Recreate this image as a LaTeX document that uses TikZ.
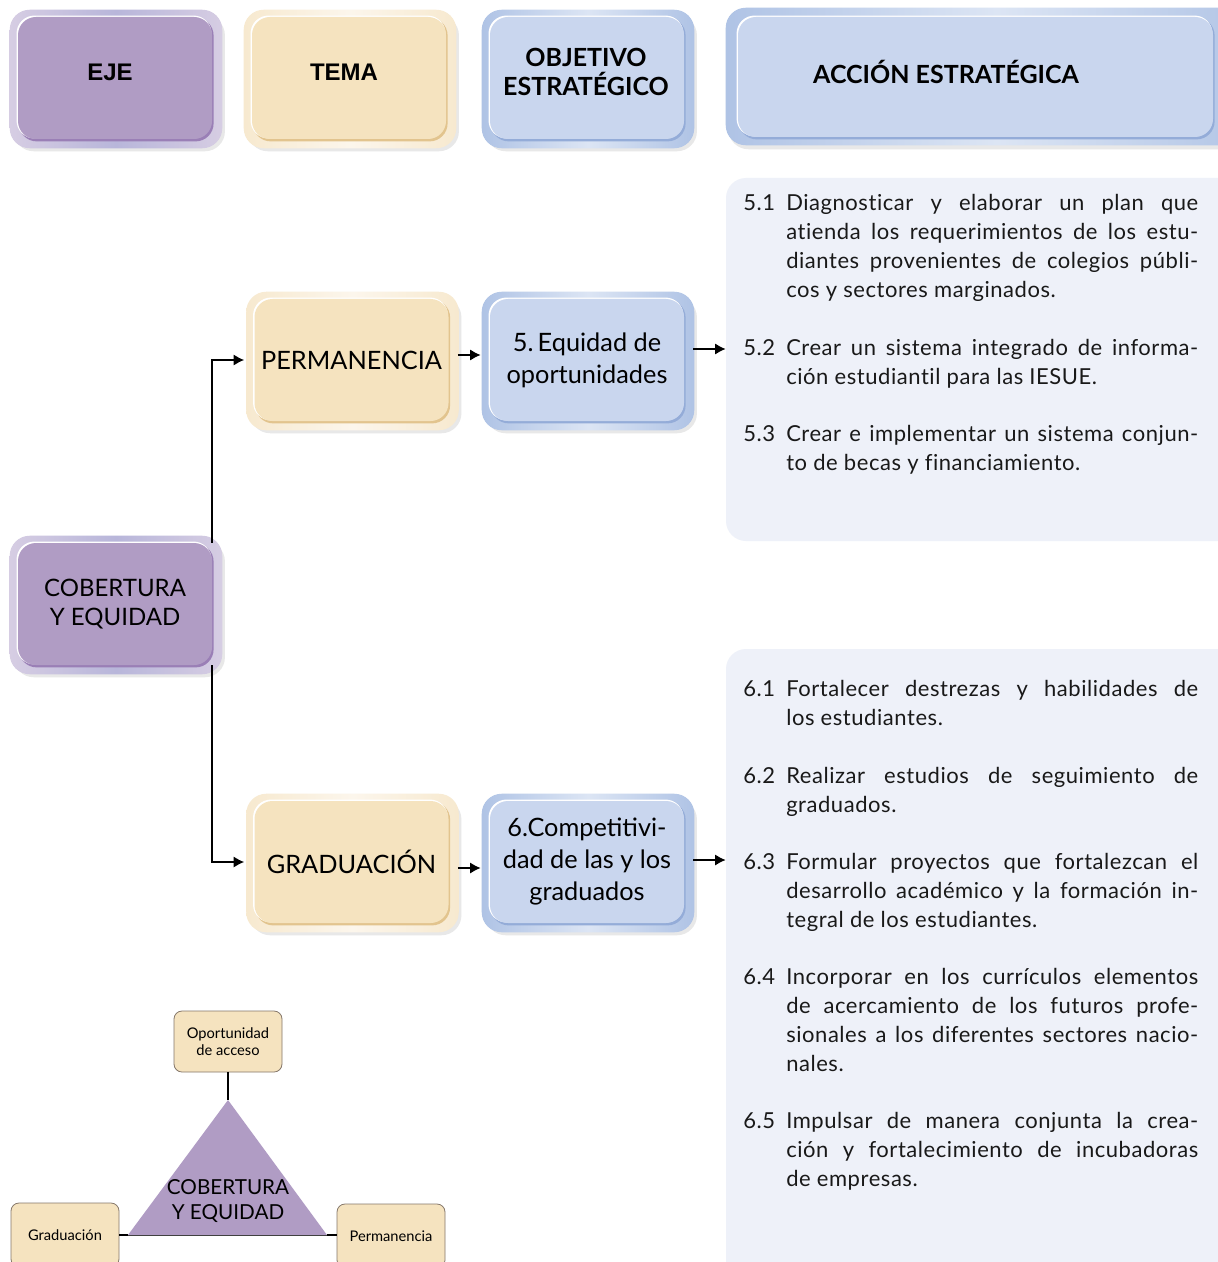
\documentclass[tikz,border=0pt]{standalone}
\usepackage{fontspec}
\setmainfont{Lato}
\newfontfamily\arialf{Liberation Sans}
\newfontfamily\bodyf{Lato}[LetterSpace=2.5,Ligatures=CommonOff]
\usetikzlibrary{arrows.meta,backgrounds}
\definecolor{purp}{HTML}{B09CC4}
\definecolor{purpdk}{HTML}{9A7FB6}
\definecolor{purpfa}{HTML}{D6CDE3}
\definecolor{purpfb}{HTML}{B8B6DA}
\definecolor{beige}{HTML}{F5E3BF}
\definecolor{beigedk}{HTML}{E2C48E}
\definecolor{beigefa}{HTML}{F7E9CF}
\definecolor{beigefb}{HTML}{FCF6EC}
\definecolor{bluef}{HTML}{C9D6EE}
\definecolor{bluedk}{HTML}{94ACD8}
\definecolor{bluefa}{HTML}{AFC3E5}
\definecolor{bluefb}{HTML}{DCE5F4}
\definecolor{panelc}{HTML}{EEF1F9}
\definecolor{smallbd}{HTML}{85776A}
\newlength\jw \setlength\jw{309pt}
\newcommand{\jline}[1]{\makebox[\jw][s]{#1}\\}
\newcommand{\lline}[1]{\makebox[\jw][l]{#1}}
\newcommand{\accit}[2]{\makebox[32.25pt][l]{#1}\parbox[t]{\jw}{#2}}
\newcommand{\deco}[5]{%
 \begin{scope}[on background layer]
  \fill[black!9, rounded corners=15pt] ([shift={(-3pt,1pt)}]#1.north west) rectangle ([shift={(9.5pt,-9pt)}]#1.south east);
  \shade[rounded corners=15pt, left color=#2, right color=#4, middle color=#3] ([shift={(-6pt,5.25pt)}]#1.north west) rectangle ([shift={(7.5pt,-6.75pt)}]#1.south east);
  \fill[#5, rounded corners=13.5pt] ([shift={(0.8pt,-0.6pt)}]#1.north west) rectangle ([shift={(1pt,-1.6pt)}]#1.south east);
  \fill[white, rounded corners=13.5pt] ([shift={(-0.9pt,0.9pt)}]#1.north west) rectangle ([shift={(-0.6pt,0.6pt)}]#1.south east);
 \end{scope}}
\begin{document}
\begin{tikzpicture}[x=0.75pt,y=-0.75pt,
  ibox/.style={rounded corners=13.5pt, minimum width=145.5pt, minimum height=91.5pt, inner sep=0pt, align=center},
  hdra/.style={font=\arialf\bfseries\fontsize{18}{21}\selectfont, align=center},
  hdrb/.style={font=\bfseries\fontsize{18.75}{22}\selectfont, align=center},
  midf/.style={font=\fontsize{19}{24}\selectfont},
  cobf/.style={font=\fontsize{18}{21.75}\selectfont},
  panel/.style={fill=panelc, rounded corners=15pt, minimum width=385.5pt, inner sep=0pt},
  accf/.style={font=\bodyf\fontsize{16.5}{21.75}\selectfont, inner sep=0pt, anchor=base west, text=black!90},
  sbox/.style={fill=beige, draw=smallbd, line width=0.6pt, rounded corners=6pt, minimum width=81pt, inner sep=0pt, align=center, font=\fontsize{11}{12.75}\selectfont},
  arr/.style={line width=1.3pt, -{Latex[length=8pt,width=8.5pt]}},
  lnk/.style={line width=1.5pt}]
\clip (0,0) rectangle (1217,1262);
\begin{scope}[on background layer]
\fill[white] (0,0) rectangle (1217,1262);
\end{scope}

% header boxes
\node[ibox, fill=purp] (eje) at (115,78) {};
\deco{eje}{purpfa}{purpfb}{purpfa}{purpdk}
\node[hdra] (ejet) at (110,72) {EJE};
\node[ibox, fill=beige] (tema) at (349,78) {};
\deco{tema}{beigefa}{beigefb}{beigefa}{beigedk}
\node[hdra] (temat) at (344,72) {TEMA};
\node[ibox, fill=bluef] (obj) at (587,78) {};
\deco{obj}{bluefa}{bluefb}{bluefa}{bluedk}
\node[hdrb] (objt) at (586,72) {OBJETIVO\\ESTRATÉGICO};
\node[ibox, fill=bluef, minimum width=356.25pt, minimum height=90pt] (acc) at (975.5,77) {};
\begin{scope}[on background layer]
  \fill[black!9, rounded corners=15pt] ([shift={(-7pt,2pt)}]acc.north west) rectangle ([shift={(40pt,-9pt)}]acc.south east);
  \shade[rounded corners=15pt, left color=bluefa, right color=bluefa, middle color=bluefb] ([shift={(-9pt,6.75pt)}]acc.north west) rectangle ([shift={(40pt,-6pt)}]acc.south east);
  \fill[bluedk, rounded corners=13.5pt] ([shift={(0.8pt,-0.6pt)}]acc.north west) rectangle ([shift={(1pt,-1.6pt)}]acc.south east);
  \fill[white, rounded corners=13.5pt] ([shift={(-0.9pt,0.9pt)}]acc.north west) rectangle ([shift={(-0.6pt,0.6pt)}]acc.south east);
\end{scope}
\node[hdrb] (acct) at (946,72) {ACCIÓN ESTRATÉGICA};

% middle boxes
\node[ibox, fill=beige, midf] (perm) at (351.5,360) {PERMANENCIA};
\deco{perm}{beigefa}{beigefb}{beigefa}{beigedk}
\node[ibox, fill=bluef, midf] (eq) at (587,360) {5.\,Equidad de\\oportunidades};
\deco{eq}{bluefa}{bluefb}{bluefa}{bluedk}
\node[ibox, fill=purp, cobf] (cob) at (115,604) {COBERTURA\\Y EQUIDAD};
\deco{cob}{purpfa}{purpfb}{purpfa}{purpdk}
\node[ibox, fill=beige, midf] (grad) at (351.5,862) {GRADUACIÓN};
\deco{grad}{beigefa}{beigefb}{beigefa}{beigedk}
\node[ibox, fill=bluef, midf] (comp) at (587,862) {6.Competitivi-\\dad de las y los\\graduados};
\deco{comp}{bluefa}{bluefb}{bluefa}{bluedk}

% panels
\begin{scope}[on background layer]
\node[panel, minimum height=272.25pt] (p1) at (983,359.5) {};
\node[panel, minimum height=481.5pt] (p2) at (983,970) {};
\end{scope}

% connectors
\draw[arr] (cob.north east) |- ([xshift=-7.5pt]perm.west);
\draw[arr] (cob.south east) |- ([xshift=-7.5pt]grad.west);
\draw[arr] ([shift={(6.75pt,3.75pt)}]perm.east) -- ([shift={(-6.75pt,3.75pt)}]eq.west);
\coordinate (a1) at ([shift={(6.75pt,8.25pt)}]eq.east);
\draw[arr] (a1) -- (a1 -| p1.west);
\draw[arr] ([shift={(6.75pt,-4.5pt)}]grad.east) -- ([shift={(-6.75pt,-4.5pt)}]comp.west);
\coordinate (a2) at ([shift={(6.75pt,1.5pt)}]comp.east);
\draw[arr] (a2) -- (a2 -| p2.west);

% action texts
\node[accf] (t51) at (743,211) {\accit{5.1}{\jline{Diagnosticar y elaborar un plan que}\jline{atienda los requerimientos de los estu-}\jline{diantes provenientes de colegios públi-}\lline{cos y sectores marginados.}}};
\node[accf] (t52) at (743,355) {\accit{5.2}{\jline{Crear un sistema integrado de informa-}\lline{ción estudiantil para las IESUE.}}};
\node[accf] (t53) at (743,441) {\accit{5.3}{\jline{Crear e implementar un sistema conjun-}\lline{to de becas y financiamiento.}}};
\node[accf] (t61) at (743,696) {\accit{6.1}{\jline{Fortalecer destrezas y habilidades de}\lline{los estudiantes.}}};
\node[accf] (t62) at (743,783) {\accit{6.2}{\jline{Realizar estudios de seguimiento de}\lline{graduados.}}};
\node[accf] (t63) at (743,869) {\accit{6.3}{\jline{Formular proyectos que fortalezcan el}\jline{desarrollo académico y la formación in-}\lline{tegral de los estudiantes.}}};
\node[accf] (t64) at (743,984) {\accit{6.4}{\jline{Incorporar en los currículos elementos}\jline{de acercamiento de los futuros profe-}\jline{sionales a los diferentes sectores nacio-}\lline{nales.}}};
\node[accf] (t65) at (743,1128) {\accit{6.5}{\jline{Impulsar de manera conjunta la crea-}\jline{ción y fortalecimiento de incubadoras}\lline{de empresas.}}};

% triangle diagram
\coordinate (ta) at (228,1100);
\coordinate (tl) at (128,1235);
\coordinate (tr) at (327,1235);
\fill[purp] (ta) -- (tr) -- (tl) -- cycle;
\draw[black!75, line width=0.6pt] (tl) -- (tr);
\node[font=\fontsize{15.5}{18.75}\selectfont, align=center, inner sep=0pt] (trit) at (228,1201) {COBERTURA\\Y EQUIDAD};
\node[sbox, minimum height=45.75pt] (op) at (228,1041.5) {Oportunidad\\de acceso};
\node[sbox, minimum height=48pt] (gs) at (65,1235) {Graduación};
\node[sbox, minimum height=48pt] (ps) at (391,1236) {Permanencia};
\draw[lnk] (op.south) -- (ta);
\draw[lnk] (gs.east |- tl) -- (tl);
\draw[lnk] (ps.west |- tr) -- (tr);
\end{tikzpicture}
\end{document}
